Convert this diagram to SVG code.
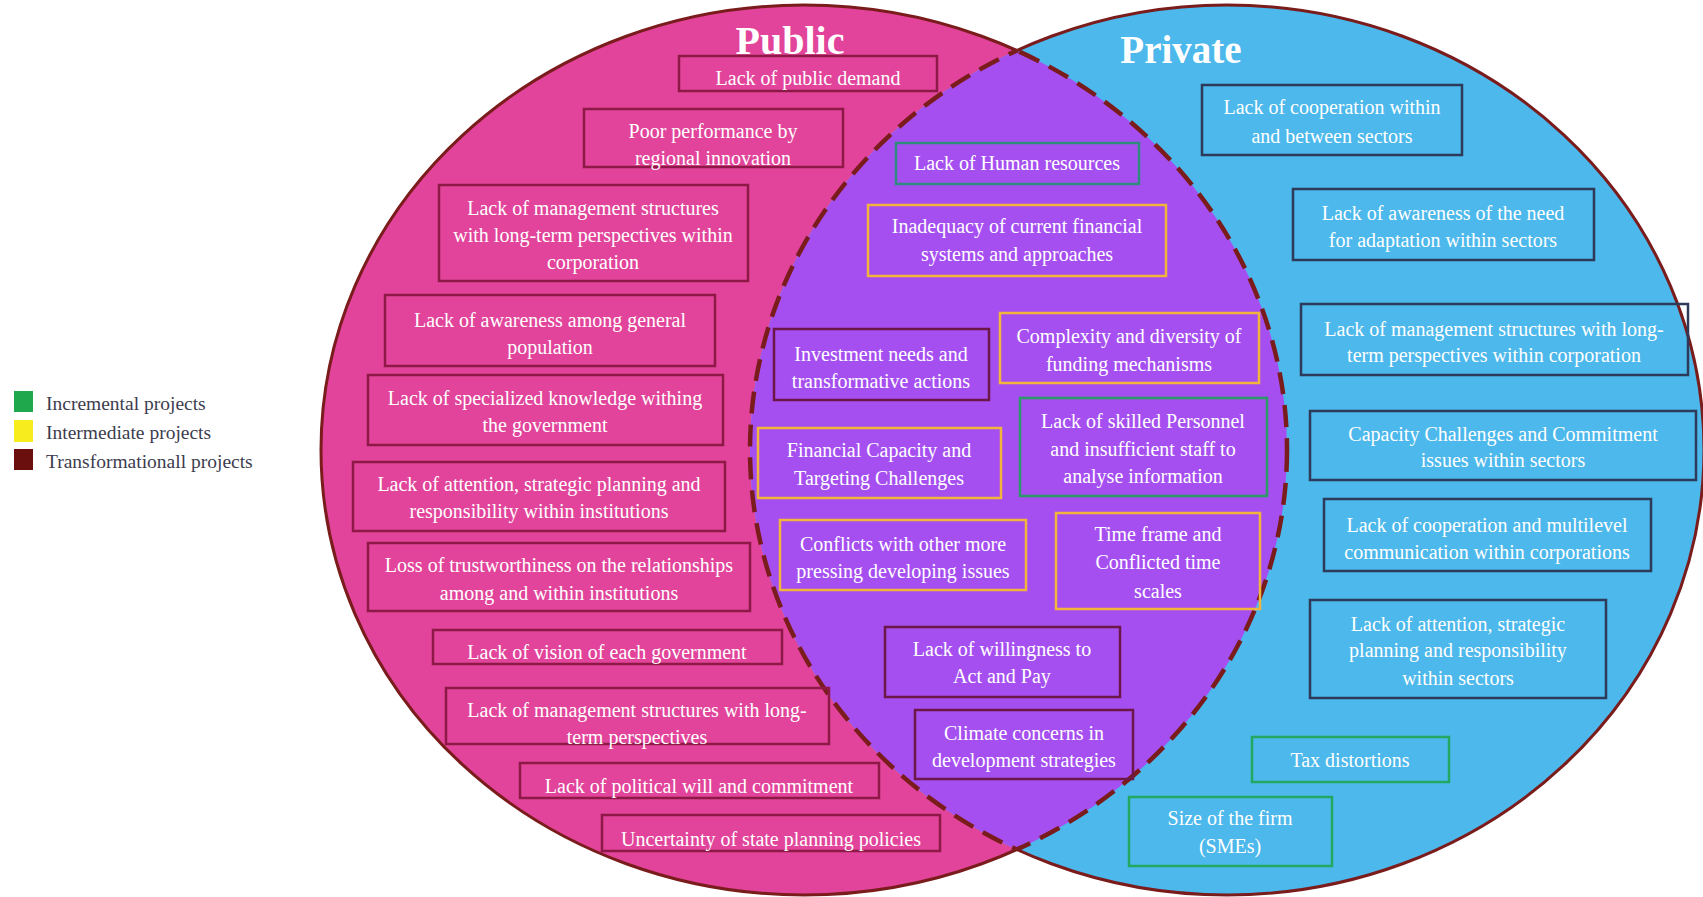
<svg xmlns="http://www.w3.org/2000/svg" xmlns:xlink="http://www.w3.org/1999/xlink" width="1703" height="897" viewBox="0 0 1703 897">
<style>
.t{font-family:"Liberation Serif","Times New Roman",serif;font-size:20px;fill:#ffffff;text-anchor:middle}
.h{font-family:"Liberation Serif","Times New Roman",serif;font-weight:bold;fill:#ffffff;text-anchor:middle}
.lg{font-family:"Liberation Serif","Times New Roman",serif;font-size:19.5px;fill:#3c3c4e}
.b{fill:none;stroke-width:2.5}
.bp{stroke:#8E1846}
.by{stroke:#F0B53A}
.bg{stroke:#2A9A66}
.bm{stroke:#6B1748}
.bb{stroke:#2D3A5A}
.solid{fill:none;stroke:#7A1C1C;stroke-width:3}
.dash{fill:none;stroke:#7A1C1C;stroke-width:4.5;stroke-dasharray:22 11}
</style>
<defs>
<ellipse id="pinkE" cx="804" cy="450" rx="483" ry="445"/>
<ellipse id="blueE" cx="1227" cy="450" rx="477" ry="445"/>
<clipPath id="inBlue"><use xlink:href="#blueE"/></clipPath>
<clipPath id="inPink"><use xlink:href="#pinkE"/></clipPath>
<mask id="outBlue" maskUnits="userSpaceOnUse" x="0" y="0" width="1703" height="897"><rect x="0" y="0" width="1703" height="897" fill="#fff"/><use xlink:href="#blueE" fill="#000"/></mask>
<mask id="outPink" maskUnits="userSpaceOnUse" x="0" y="0" width="1703" height="897"><rect x="0" y="0" width="1703" height="897" fill="#fff"/><use xlink:href="#pinkE" fill="#000"/></mask>
</defs>
<rect x="0" y="0" width="1703" height="897" fill="#ffffff"/>
<g id="sets">
<use xlink:href="#pinkE" fill="#E1449A"/>
<use xlink:href="#blueE" fill="#4CB8EB"/>
<use xlink:href="#pinkE" fill="#A64FF1" clip-path="url(#inBlue)"/>
<use xlink:href="#pinkE" class="solid" mask="url(#outBlue)"/>
<use xlink:href="#blueE" class="solid" mask="url(#outPink)"/>
<use xlink:href="#pinkE" class="dash" clip-path="url(#inBlue)"/>
<use xlink:href="#blueE" class="dash" clip-path="url(#inPink)"/>
</g>
<g id="title-public"><text class="h" x="790" y="54" font-size="40">Public</text></g>
<g id="title-private"><text class="h" x="1181" y="63" font-size="39">Private</text></g>
<g id="legend">
<rect x="14" y="391" width="19" height="21" fill="#1FA84C"/>
<rect x="14" y="420" width="19" height="22" fill="#F7EC1E"/>
<rect x="14" y="449" width="19" height="21" fill="#6B0E0E"/>
<text class="lg" x="46" y="410">Incremental projects</text>
<text class="lg" x="46" y="439">Intermediate projects</text>
<text class="lg" x="46" y="468">Transformationall projects</text>
</g>
<g id="pub1"><rect class="b bp" x="679" y="56" width="258" height="35"/><text class="t" x="808" y="85">Lack of public demand</text></g>
<g id="pub2"><rect class="b bp" x="584" y="109" width="259" height="58"/><text class="t" x="713" y="138">Poor performance by</text><text class="t" x="713" y="165">regional innovation</text></g>
<g id="pub3"><rect class="b bp" x="439" y="185" width="309" height="96"/><text class="t" x="593" y="215">Lack of management structures</text><text class="t" x="593" y="242">with long-term perspectives within</text><text class="t" x="593" y="269">corporation</text></g>
<g id="pub4"><rect class="b bp" x="385" y="295" width="330" height="71"/><text class="t" x="550" y="327">Lack of awareness among general</text><text class="t" x="550" y="354">population</text></g>
<g id="pub5"><rect class="b bp" x="368" y="375" width="355" height="70"/><text class="t" x="545" y="405">Lack of specialized knowledge withing</text><text class="t" x="545" y="432">the government</text></g>
<g id="pub6"><rect class="b bp" x="353" y="462" width="372" height="69"/><text class="t" x="539" y="491">Lack of attention, strategic planning and</text><text class="t" x="539" y="518">responsibility within institutions</text></g>
<g id="pub7"><rect class="b bp" x="368" y="543" width="382" height="68"/><text class="t" x="559" y="572">Loss of trustworthiness on the relationships</text><text class="t" x="559" y="600">among and within institutions</text></g>
<g id="pub8"><rect class="b bp" x="433" y="630" width="349" height="34"/><text class="t" x="607" y="659">Lack of vision of each government</text></g>
<g id="pub9"><rect class="b bp" x="446" y="688" width="383" height="56"/><text class="t" x="637" y="717">Lack of management structures with long-</text><text class="t" x="637" y="744">term perspectives</text></g>
<g id="pub10"><rect class="b bp" x="520" y="763" width="359" height="35"/><text class="t" x="699" y="793">Lack of political will and commitment</text></g>
<g id="pub11"><rect class="b bp" x="602" y="815" width="338" height="36"/><text class="t" x="771" y="846">Uncertainty of state planning policies</text></g>
<g id="both1"><rect class="b bg" x="896" y="143" width="243" height="41" style="stroke:#2E8C7E"/><text class="t" x="1017" y="170">Lack of Human resources</text></g>
<g id="both2"><rect class="b by" x="868" y="205" width="298" height="71"/><text class="t" x="1017" y="233">Inadequacy of current financial</text><text class="t" x="1017" y="261">systems and approaches</text></g>
<g id="both3"><rect class="b bm" x="774" y="329" width="215" height="71"/><text class="t" x="881" y="361">Investment needs and</text><text class="t" x="881" y="388">transformative actions</text></g>
<g id="both4"><rect class="b by" x="1000" y="313" width="259" height="70"/><text class="t" x="1129" y="343">Complexity and diversity of</text><text class="t" x="1129" y="371">funding mechanisms</text></g>
<g id="both5"><rect class="b bg" x="1020" y="398" width="247" height="98"/><text class="t" x="1143" y="428">Lack of skilled Personnel</text><text class="t" x="1143" y="456">and insufficient staff to</text><text class="t" x="1143" y="483">analyse information</text></g>
<g id="both6"><rect class="b by" x="758" y="428" width="243" height="70"/><text class="t" x="879" y="457">Financial Capacity and</text><text class="t" x="879" y="485">Targeting Challenges</text></g>
<g id="both7"><rect class="b by" x="780" y="520" width="246" height="70"/><text class="t" x="903" y="551">Conflicts with other more</text><text class="t" x="903" y="578">pressing developing issues</text></g>
<g id="both8"><rect class="b by" x="1056" y="513" width="204" height="96"/><text class="t" x="1158" y="541">Time frame and</text><text class="t" x="1158" y="569">Conflicted time</text><text class="t" x="1158" y="598">scales</text></g>
<g id="both9"><rect class="b bm" x="885" y="627" width="235" height="70"/><text class="t" x="1002" y="656">Lack of willingness to</text><text class="t" x="1002" y="683">Act and Pay</text></g>
<g id="both10"><rect class="b bm" x="915" y="710" width="218" height="69"/><text class="t" x="1024" y="740">Climate concerns in</text><text class="t" x="1024" y="767">development strategies</text></g>
<g id="priv1"><rect class="b bb" x="1202" y="85" width="260" height="70"/><text class="t" x="1332" y="114">Lack of cooperation within</text><text class="t" x="1332" y="143">and between sectors</text></g>
<g id="priv2"><rect class="b bb" x="1293" y="189" width="301" height="71"/><text class="t" x="1443" y="220">Lack of awareness of the need</text><text class="t" x="1443" y="247">for adaptation within sectors</text></g>
<g id="priv3"><rect class="b bb" x="1301" y="304" width="387" height="71"/><text class="t" x="1494" y="336">Lack of management structures with long-</text><text class="t" x="1494" y="362">term perspectives within corporation</text></g>
<g id="priv4"><rect class="b bb" x="1310" y="411" width="386" height="69"/><text class="t" x="1503" y="441">Capacity Challenges and Commitment</text><text class="t" x="1503" y="467">issues within sectors</text></g>
<g id="priv5"><rect class="b bb" x="1324" y="499" width="327" height="72"/><text class="t" x="1487" y="532">Lack of cooperation and multilevel</text><text class="t" x="1487" y="559">communication within corporations</text></g>
<g id="priv6"><rect class="b bb" x="1310" y="600" width="296" height="98"/><text class="t" x="1458" y="631">Lack of attention, strategic</text><text class="t" x="1458" y="657">planning and responsibility</text><text class="t" x="1458" y="685">within sectors</text></g>
<g id="priv7"><rect class="b bg" x="1252" y="737" width="197" height="45" style="stroke:#22A862"/><text class="t" x="1350" y="767">Tax distortions</text></g>
<g id="priv8"><rect class="b bg" x="1129" y="797" width="203" height="69" style="stroke:#22A862"/><text class="t" x="1230" y="825">Size of the firm</text><text class="t" x="1230" y="853">(SMEs)</text></g>
</svg>
